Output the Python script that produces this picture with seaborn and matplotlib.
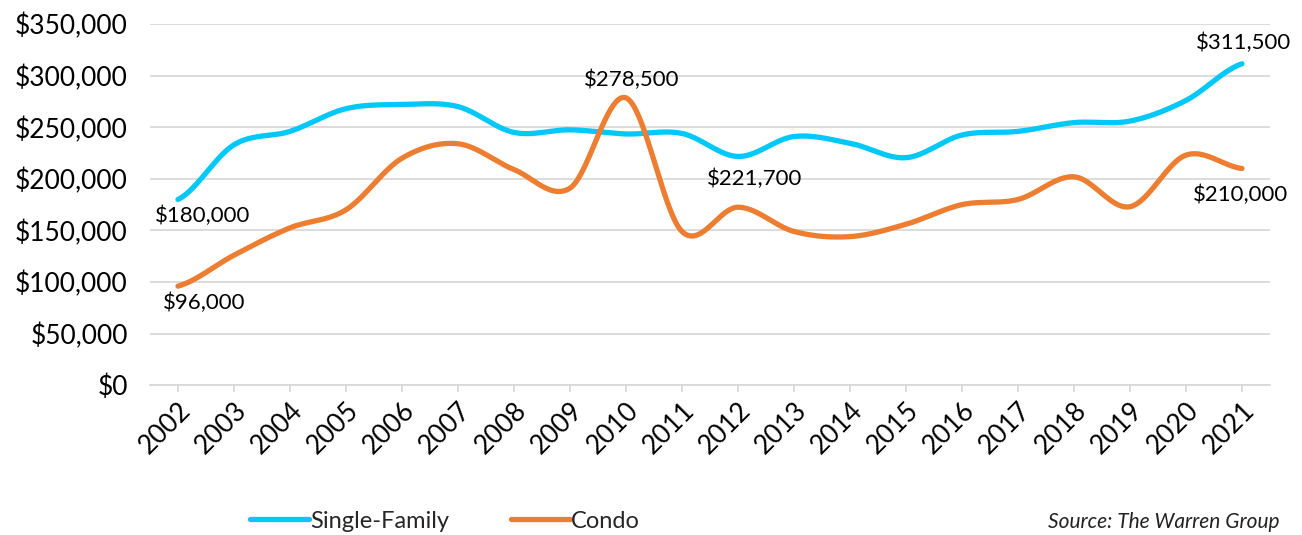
#!/usr/bin/env python3
"""
Median sale price, single-family vs condo, 2002-2021.
"""
import numpy as np
import pandas as pd
import matplotlib
matplotlib.use("Agg")
import matplotlib.pyplot as plt
import seaborn as sns
from matplotlib.ticker import FuncFormatter

# Data
years = [str(y) for y in range(2002, 2022)]
single_family = [180000, 233000, 246000, 268000, 272000, 270000, 245000, 247500,
                 243500, 244000, 221700, 241000, 234500, 220500, 242500, 246000,
                 254500, 256000, 276000, 311500]
condo = [96000, 126000, 152500, 170000, 220000, 234000, 209000, 191000,
         278500, 149000, 172500, 149000, 144000, 156000, 175000, 180000,
         202000, 173000, 223000, 210000]
series_names = ["Single-Family", "Condo"]
colors = {"Single-Family": "#00C8F8", "Condo": "#ED7D31"}

# (series, year index, label text, offset in points)
data_labels = [
    ("Single-Family", 0, "$180,000", (18, -12)),
    ("Condo", 0, "$96,000", (19, -12)),
    ("Condo", 8, "$278,500", (4, 13)),
    ("Single-Family", 10, "$221,700", (12, -16)),
    ("Single-Family", 19, "$311,500", (1, 15)),
    ("Condo", 19, "$210,000", (-1, -19)),
]


def smooth_curve(values, steps=40):
    """Excel-style smoothed line: cubic Bezier through each point pair."""
    p = np.asarray(values, dtype=float)
    ext = np.concatenate([[p[0]], p, [p[-1]]])
    xs, ys = [], []
    t = np.linspace(0, 1, steps, endpoint=False)
    for i in range(len(p) - 1):
        p0, p1, p2, p3 = ext[i], ext[i + 1], ext[i + 2], ext[i + 3]
        c1 = p1 + (p2 - p0) / 6
        c2 = p2 - (p3 - p1) / 6
        y = ((1 - t) ** 3 * p1 + 3 * (1 - t) ** 2 * t * c1
             + 3 * (1 - t) * t ** 2 * c2 + t ** 3 * p2)
        xs.append(i + t)
        ys.append(y)
    xs.append([len(p) - 1])
    ys.append([p[-1]])
    return np.concatenate(xs), np.concatenate(ys)


frames = []
for name, vals in zip(series_names, [single_family, condo]):
    sx, sy = smooth_curve(vals)
    frames.append(pd.DataFrame({"x": sx, "price": sy, "series": name}))
df = pd.concat(frames, ignore_index=True)
raw = {"Single-Family": single_family, "Condo": condo}

sns.set_theme(style="white")
plt.rcParams["font.family"] = ["Lato", "DejaVu Sans"]

fig = plt.figure(figsize=(13.02, 5.35), dpi=100)
ax = fig.add_axes([0.1152, 0.280, 0.8602, 0.675])

sns.lineplot(data=df, x="x", y="price", hue="series", palette=colors,
             sort=False, estimator=None, linewidth=3.8, ax=ax, legend=False,
             solid_capstyle="round")

ax.set_xlim(-0.5, len(years) - 0.5)
ax.set_ylim(0, 350000)
ax.set_yticks(np.arange(0, 350001, 50000))
ax.yaxis.set_major_formatter(FuncFormatter(lambda v, _: f"${v:,.0f}"))
ax.set_xticks(range(len(years)))
ax.set_xticklabels(years, rotation=45, ha="right", rotation_mode="anchor")
ax.set_xlabel("")
ax.set_ylabel("")

ax.grid(axis="y", color="#D9D9D9", linewidth=1.3)
ax.set_axisbelow(True)
for side in ["top", "right", "left"]:
    ax.spines[side].set_visible(False)
ax.spines["bottom"].set_color("#D9D9D9")
ax.spines["bottom"].set_linewidth(1.3)
ax.tick_params(axis="x", bottom=True, color="#D9D9D9", length=5, width=1.3,
               labelsize=19, pad=4, labelcolor="black")
ax.tick_params(axis="y", length=0, labelsize=19, pad=16, labelcolor="black")

for name, idx, text, off in data_labels:
    ax.annotate(text, xy=(idx, raw[name][idx]), xytext=off,
                textcoords="offset points", ha="center", va="center",
                fontsize=16, color="black")

handles = [plt.Line2D([], [], color=colors[n], linewidth=3.8,
                      solid_capstyle="round") for n in series_names]
fig.legend(handles, series_names, loc="center", bbox_to_anchor=(0.342, 0.026),
           ncol=2, frameon=False, fontsize=17, handlelength=2.5,
           handletextpad=0.05, columnspacing=2.6)

fig.text(0.983, 0.006, "Source: The Warren Group", ha="right", va="bottom",
         fontsize=15, style="italic", color="#222222")

fig.savefig("out.png", dpi=100)
plt.close(fig)
